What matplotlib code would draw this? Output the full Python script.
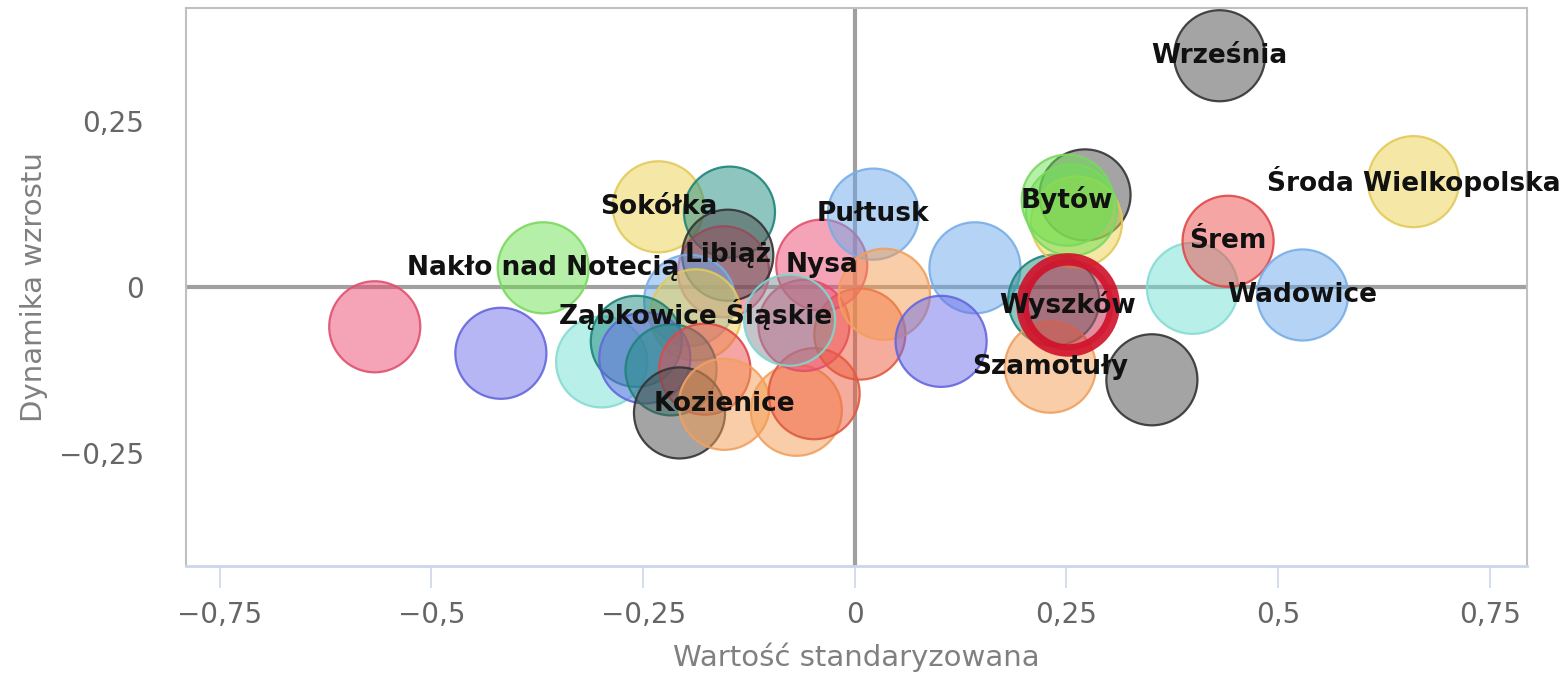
import matplotlib
matplotlib.use("Agg")
import matplotlib.pyplot as plt


# bubble positions, in draw order
city_names = [
	"", "", "Nakło nad Notecią", "", "Sokółka", "", "", "Libiąż",
	"", "Ząbkowice Śląskie", "", "", "", "", "", "Kozienice",
	"", "", "", "", "Nysa", "", "Pułtusk", "",
	"", "", "", "Szamotuły", "", "", "", "",
	"Bytów", "", "Śrem", "Wadowice", "Środa Wielkopolska", "Września", "Wyszków",
]
std_value = [
	-0.567, -0.418, -0.368, -0.299, -0.232, -0.148, -0.155, -0.150,
	-0.195, -0.188, -0.258, -0.248, -0.217, -0.177, -0.207, -0.154,
	-0.069, -0.048, -0.060, 0.006, -0.039, -0.077, 0.022, 0.035,
	0.142, 0.102, 0.235, 0.231, 0.351, 0.272, 0.262, 0.256,
	0.251, 0.399, 0.441, 0.529, 0.660, 0.431, 0.252,
]
growth = [
	-0.060, -0.100, 0.029, -0.113, 0.121, 0.113, 0.023, 0.048,
	-0.020, -0.042, -0.082, -0.107, -0.125, -0.124, -0.190, -0.177,
	-0.186, -0.161, -0.058, -0.071, 0.033, -0.050, 0.110, -0.011,
	0.029, -0.082, -0.020, -0.121, -0.140, 0.139, 0.098, 0.116,
	0.131, -0.002, 0.069, -0.012, 0.159, 0.349, -0.027,
]
bubble_color = [
	"pink", "indigo", "green", "cyan", "yellow", "teal", "pink", "gray",
	"blue", "yellow", "teal", "indigo", "teal", "salmon", "gray", "peach",
	"peach", "coral", "pink", "coral", "pink", "silver", "blue", "peach",
	"blue", "indigo", "teal", "peach", "gray", "gray", "yellow", "green",
	"green", "cyan", "salmon", "blue", "yellow", "gray", "selected",
]

xtick_values = [-0.75, -0.5, -0.25, 0, 0.25, 0.5, 0.75]
xtick_labels = ["−0,75", "−0,5", "−0,25", "0", "0,25", "0,5", "0,75"]
ytick_values = [-0.25, 0, 0.25]
ytick_labels = ["−0,25", "0", "0,25"]

# fill / edge per colour key
palette = {
	"pink": ("#ec4a70", "#e0506e"),
	"indigo": ("#6c6ee8", "#6466dd"),
	"green": ("#6ee050", "#7ad860"),
	"cyan": ("#74e0d4", "#86dcd2"),
	"yellow": ("#ecd04c", "#e2ca5a"),
	"teal": ("#1e8c80", "#1e8478"),
	"gray": ("#4a4a4a", "#333333"),
	"blue": ("#6ca8ec", "#78aee6"),
	"peach": ("#f59c50", "#f0a060"),
	"salmon": ("#ee4c4c", "#e04848"),
	"coral": ("#ee5a3c", "#e05a40"),
	"silver": ("#8a8a98", "#7fd8d0"),
	"selected": ("#c02040", "#d0102a"),
}

bubble_size = 4300
label_fontsize = 19

fig = plt.figure(figsize=(15.6, 6.85), dpi=100)
ax = fig.add_axes([0.1192, 0.1737, 0.8596, 0.8146])

ax.axhline(0, color="#a0a0a0", linewidth=3, zorder=1)
ax.axvline(0, color="#a0a0a0", linewidth=3, zorder=1)

for i in range(len(std_value)):
	fill, edge = palette[bubble_color[i]]
	lw = 9 if bubble_color[i] == "selected" else 1.6
	ax.scatter(std_value[i], growth[i], s=bubble_size, color=fill,
		alpha=0.5, edgecolors="none", zorder=2 + i * 0.01)
	ax.scatter(std_value[i], growth[i], s=bubble_size, facecolors="none",
		edgecolors=edge, linewidths=lw, alpha=0.9, zorder=2 + i * 0.01)

for i, name in enumerate(city_names):
	if name:
		ax.text(std_value[i], growth[i], name,
			ha="center", va="center",
			fontsize=label_fontsize, fontweight="bold",
			color="#111111", zorder=10,
		)

ax.set_xlim(-0.79, 0.794)
ax.set_ylim(-0.421, 0.421)

ax.set_xticks(xtick_values)
ax.set_xticklabels(xtick_labels)
ax.set_yticks(ytick_values)
ax.set_yticklabels(ytick_labels)
ax.tick_params(axis="x", length=16, width=1.2, color="#ccd6eb",
	labelsize=20, labelcolor="#666666", pad=9)
ax.tick_params(axis="y", length=0, labelsize=20,
	labelcolor="#666666", pad=30)

for side in ["top", "right", "left"]:
	ax.spines[side].set_color("#c0c0c0")
	ax.spines[side].set_linewidth(1.5)
ax.spines["bottom"].set_color("#ccd6eb")
ax.spines["bottom"].set_linewidth(2)

ax.set_xlabel("Wartość standaryzowana", fontsize=21, color="#808080", labelpad=10)
ax.set_ylabel("Dynamika wzrostu", fontsize=21, color="#808080", labelpad=8)

fig.savefig("out.png", dpi=100)
